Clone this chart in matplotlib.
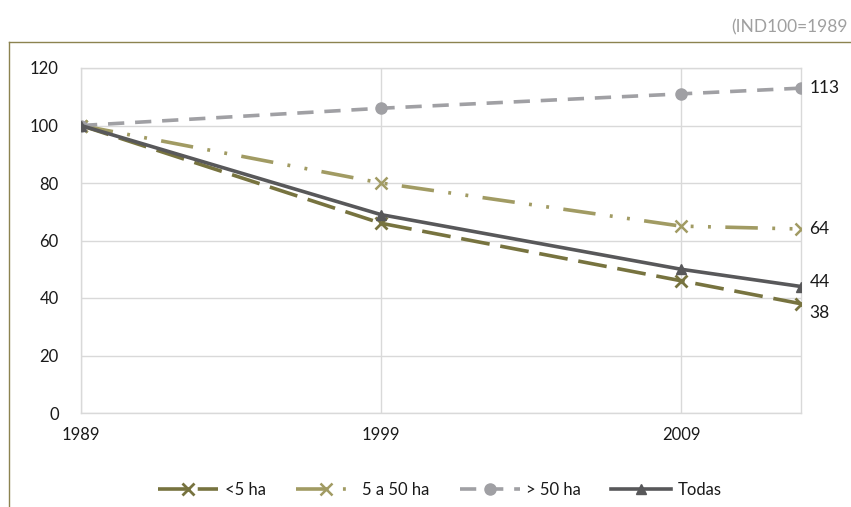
import matplotlib
matplotlib.use("Agg")
import matplotlib.pyplot as plt
from matplotlib.lines import Line2D

years = [1989, 1999, 2009, 2013]
tick_years = [1989, 1999, 2009]
yticks = [0, 20, 40, 60, 80, 100, 120]
s_small = [100, 66, 46, 38]
s_mid = [100, 80, 65, 64]
s_large = [100, 106, 111, 113]
s_all = [100, 69, 50, 44]
names = ["<5 ha", "5 a 50 ha", "> 50 ha", "Todas"]
end_labels = ["38", "64", "113", "44"]

plt.rcParams['font.family'] = ['Lato', 'DejaVu Sans']

fig = plt.figure(figsize=(8.51, 5.07), dpi=100)
ax = fig.add_axes([81/851, 1-413/507, 720/851, 345/507])

c_small = '#77733f'
c_mid = '#a19b63'
c_large = '#a0a0a4'
c_all = '#58585a'
lw = 2.6

ax.plot(years, s_small, color=c_small, lw=lw, dashes=(8, 3), marker='x', ms=8, mew=2,
        label=names[0], zorder=3)
ax.plot(years, s_mid, color=c_mid, lw=lw, dashes=(9, 4, 0.8, 4, 0.8, 4), marker='x', ms=9, mew=1.8,
        label=names[1], zorder=3)
ax.plot(years, s_large, color=c_large, lw=lw, dashes=(4.5, 3), marker='o', ms=8,
        label=names[2], zorder=3)
ax.plot(years, s_all, color=c_all, lw=lw, marker='^', ms=7.5,
        label=names[3], zorder=4)

ax.set_xlim(1989, 2013)
ax.set_ylim(0, 120)
ax.set_xticks(tick_years)
ax.set_yticks(yticks)
ax.grid(True, color='#d9d9d9', lw=1)
ax.set_axisbelow(True)
for sp in ax.spines.values():
    sp.set_color('#d9d9d9')
    sp.set_linewidth(1)
ax.tick_params(length=0, labelsize=12, colors='#1a1a1a')
ax.tick_params(axis='y', pad=16)
ax.tick_params(axis='x', pad=10)

lab_pts = [(s_small[-1], -7), (s_mid[-1], 0), (s_large[-1], 0), (s_all[-1], 3)]
for (v, dy), t in zip(lab_pts, end_labels):
    ax.annotate(t, (years[-1], v), xytext=(6, dy), textcoords='offset points',
                ha='left', va='center', fontsize=12.5, color='#1a1a1a')

leg = ax.legend(loc='center', bbox_to_anchor=(440/851, 1-490/507), bbox_transform=fig.transFigure,
                ncol=4, frameon=False, fontsize=12, handlelength=3.6, columnspacing=1.8,
                handletextpad=0.4)
for t in leg.get_texts():
    t.set_color('#1a1a1a')

fig.add_artist(Line2D([9/851, 1], [1-42/507, 1-42/507], color='#8c8350', lw=1))
fig.add_artist(Line2D([9/851, 9/851], [0, 1-42/507], color='#8c8350', lw=1))

fig.text(848/851, 1-27/507, "(IND100=1989", fontsize=12.5, color='#a0a0a0', ha='right', va='center')

fig.savefig('out.png', dpi=100)
